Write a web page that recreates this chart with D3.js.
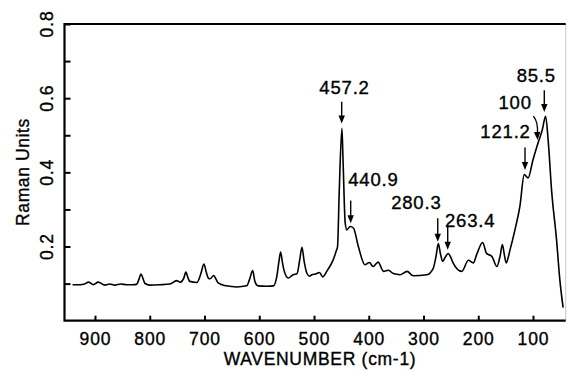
<!DOCTYPE html>
<html>
<head>
<meta charset="utf-8">
<script src="https://cdn.jsdelivr.net/npm/d3@7"></script>
<style>
  html, body { margin: 0; padding: 0; background: #fff; }
  svg { display: block; }
  text { font-family: "Liberation Sans", Arial, Helvetica, sans-serif; fill: #000; stroke: #000; stroke-width: 0.35px; }
</style>
</head>
<body>
<svg id="chart" width="567" height="371"></svg>
<script>
// ---- data ----
const wavenumber = [941, 927, 919, 912, 903, 894, 882, 873, 864, 853, 842, 832, 824, 820, 816, 812, 809, 800, 781, 763,
  751, 744, 738, 734, 730, 727, 714, 707, 701, 697, 693, 690, 683, 679, 675, 660, 641, 623, 618, 612,
  608, 602, 586, 574, 568, 564, 561, 558, 555, 547, 538, 531, 526, 522, 518, 513, 508, 504, 497, 490,
  484, 476, 465, 459, 457, 454, 449, 447, 443, 440, 434, 428, 419, 407, 399, 392, 383, 373, 364, 355,
  343, 330, 319, 294, 282, 277, 273, 269, 265, 260, 255, 250, 246, 230, 218, 209, 203, 192, 185, 175,
  166, 160, 156, 152, 149, 142, 133, 124, 116, 109, 100, 90, 83, 77, 72, 66, 57, 51, 45];
const intensity = [0.097, 0.097, 0.099, 0.104, 0.097, 0.104, 0.096, 0.099, 0.096, 0.099, 0.097, 0.097, 0.098, 0.110, 0.126, 0.112, 0.101, 0.096, 0.097, 0.099,
  0.108, 0.104, 0.114, 0.131, 0.115, 0.106, 0.103, 0.125, 0.153, 0.132, 0.115, 0.113, 0.122, 0.112, 0.102, 0.094, 0.091, 0.094, 0.110, 0.135,
  0.106, 0.094, 0.093, 0.094, 0.119, 0.160, 0.185, 0.160, 0.137, 0.115, 0.124, 0.127, 0.165, 0.198, 0.160, 0.128, 0.120, 0.124, 0.126, 0.130,
  0.118, 0.135, 0.164, 0.190, 0.200, 0.344, 0.519, 0.434, 0.263, 0.245, 0.254, 0.250, 0.200, 0.151, 0.157, 0.146, 0.158, 0.133, 0.136, 0.127,
  0.124, 0.133, 0.121, 0.124, 0.142, 0.175, 0.208, 0.180, 0.160, 0.172, 0.181, 0.170, 0.156, 0.133, 0.163, 0.156, 0.178, 0.211, 0.182, 0.173,
  0.146, 0.175, 0.205, 0.175, 0.156, 0.191, 0.245, 0.308, 0.394, 0.385, 0.434, 0.483, 0.515, 0.551, 0.480, 0.350, 0.218, 0.110, 0.035];

const xTicks = [900, 800, 700, 600, 500, 400, 300, 200, 100];
const yTicks = [0.1, 0.2, 0.3, 0.4, 0.5, 0.6, 0.7, 0.8];
const yTickLabels = ["", "0.2", "", "0.4", "", "0.6", "", "0.8"];

// peak annotations: label, wavenumber where arrow sits, intensity at arrow tip
const annLabels = ["457.2", "440.9", "280.3", "263.4", "121.2", "100", "85.5"];
const annW      = [449.4, 433, 274, 255.8, 114.6, 92, 79.4];
const annV      = [0.532, 0.263, 0.213, 0.191, 0.406, 0.487, 0.563];

const xTitle = "WAVENUMBER (cm-1)";
const yTitle = "Raman Units";

// ---- layout ----
const L = 64.5, R = 565.7, T = 24, B = 320.7;
const x = d3.scaleLinear().domain([955.7, 40.3]).range([L, R]);
const y = d3.scaleLinear().domain([0, 0.8]).range([B, T]);

const svg = d3.select("#chart");
const fs = 17.5;

// frame
svg.append("line").attr("x1", R).attr("x2", R).attr("y1", T).attr("y2", B)
  .attr("stroke", "#c8c8c8").attr("stroke-width", 1);
svg.append("path")
  .attr("d", `M${R},${T}H${L}V${B}H${R}`)
  .attr("fill", "none").attr("stroke", "#000").attr("stroke-width", 2.2);

// x axis ticks (inward)
const xAxis = d3.axisBottom(x).tickValues(xTicks).tickSizeInner(-5).tickSizeOuter(0)
  .tickPadding(12).tickFormat(d3.format("d"));
const gx = svg.append("g").attr("transform", `translate(0,${B})`).call(xAxis);
gx.select(".domain").remove();
gx.selectAll("line").attr("stroke", "#000").attr("stroke-width", 2);
gx.selectAll("text").attr("font-size", fs).attr("font-family", null).attr("fill", "#000")
  .attr("letter-spacing", 0.9);

// y axis ticks (inward)
const yAxis = d3.axisLeft(y).tickValues(yTicks).tickSizeInner(-6).tickSizeOuter(0).tickFormat("");
const gy = svg.append("g").attr("transform", `translate(${L},0)`).call(yAxis);
gy.select(".domain").remove();
gy.selectAll("line").attr("stroke", "#000").attr("stroke-width", 2);

// y tick labels (rotated)
yTicks.forEach((v, i) => {
  if (!yTickLabels[i]) return;
  svg.append("text")
    .attr("transform", `translate(53,${y(v)}) rotate(-90)`)
    .attr("text-anchor", "middle")
    .attr("font-size", fs)
    .attr("letter-spacing", 0.9)
    .text(yTickLabels[i]);
});

// axis titles
svg.append("text").attr("x", 320).attr("y", 365).attr("text-anchor", "middle")
  .attr("font-size", fs).attr("letter-spacing", 0.7).text(xTitle);
svg.append("text").attr("transform", `translate(28.5,172) rotate(-90)`)
  .attr("text-anchor", "middle").attr("font-size", fs).attr("letter-spacing", 0.6).text(yTitle);

// spectrum
const pts = wavenumber.map((w, i) => [w, intensity[i]]);
const line = d3.line().x(d => x(d[0])).y(d => y(d[1])).curve(d3.curveMonotoneX);
svg.append("path").datum(pts).attr("d", line)
  .attr("fill", "none").attr("stroke", "#000").attr("stroke-width", 1.6)
  .attr("stroke-linejoin", "round");

// annotations
function arrowHead(tx, ty, angle) {
  const len = 8, half = 3.2;
  const ux = Math.cos(angle), uy = Math.sin(angle);
  const bx = tx - ux * len, by = ty - uy * len;
  const px = -uy, py = ux;
  return `M${tx},${ty}L${bx + px * half},${by + py * half}L${bx - px * half},${by - py * half}Z`;
}
const annLen = [21.6, 22.6, 23.4, 23.3, 22.7, 0, 21.7];
const annOff = [[2.8, -8.2, "middle"], [-2.4, -14.7, "start"], [-21.4, -9, "middle"], [-2.7, 0, "start"], [-19.5, -9, "middle"], [0, 0, "end"], [-8, -8.3, "middle"]];

annLabels.forEach((lab, i) => {
  const ax = x(annW[i]), tipY = y(annV[i]);
  const g = svg.append("g");
  if (lab === "100") {
    const sx = ax - 4, sy = tipY - 24;
    g.append("path").attr("d", `M${sx},${sy}Q${ax + 1},${sy + 6} ${ax},${tipY - 6}`)
      .attr("fill", "none").attr("stroke", "#000").attr("stroke-width", 1.4);
    g.append("path").attr("d", arrowHead(ax + 0.3, tipY, Math.PI / 2 - 0.08)).attr("fill", "#000");
    g.append("text").attr("x", sx - 1.6).attr("y", sy - 6.7).attr("text-anchor", "end")
      .attr("font-size", 18.5).attr("letter-spacing", 0.8).text(lab);
  } else {
    const topY = tipY - annLen[i];
    g.append("line").attr("x1", ax).attr("x2", ax).attr("y1", topY).attr("y2", tipY - 5)
      .attr("stroke", "#000").attr("stroke-width", 1.4);
    g.append("path").attr("d", arrowHead(ax, tipY, Math.PI / 2)).attr("fill", "#000");
    const o = annOff[i];
    g.append("text").attr("x", ax + o[0]).attr("y", topY + o[1]).attr("text-anchor", o[2])
      .attr("font-size", 18.5).attr("letter-spacing", 0.8).text(lab);
  }
});
</script>
</body>
</html>
